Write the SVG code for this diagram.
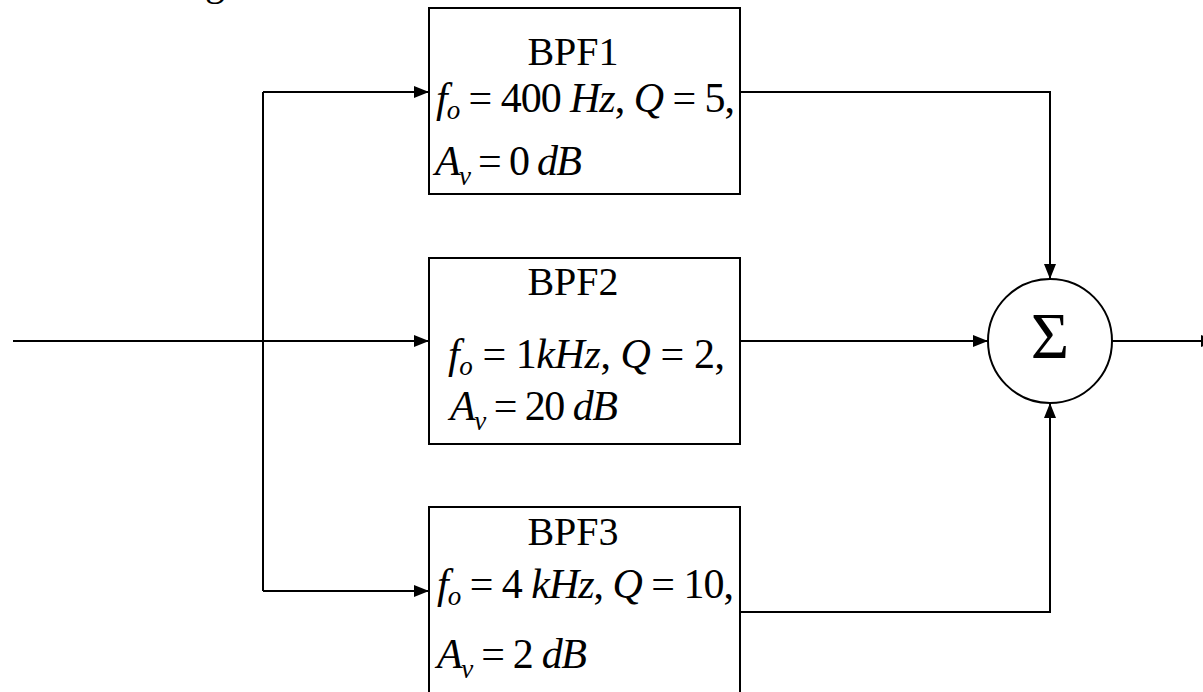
<svg xmlns="http://www.w3.org/2000/svg" width="1203" height="692" viewBox="0 0 1203 692">
<defs>
<marker id="arr" markerUnits="userSpaceOnUse" markerWidth="16" markerHeight="12" refX="15" refY="6" orient="auto">
<path d="M0,0 L15,6 L0,12 z" fill="#000"/>
</marker>
<style>
.box{fill:#fff;stroke:#000;stroke-width:2}
.ln{fill:none;stroke:#000;stroke-width:2}
.t{font-family:"Liberation Serif","Times New Roman",serif;font-size:40px;fill:#000}
.e{font-size:42px}
.i{font-style:italic}
.s{font-size:27px}
</style>
</defs>
<rect width="1203" height="692" fill="#fff"/>
<text class="t" x="205" y="-5">g</text>
<g id="connectors">
<path class="ln" d="M13,341 H429" marker-end="url(#arr)"/>
<path class="ln" d="M263,92 V591"/>
<path class="ln" d="M263,92 H429" marker-end="url(#arr)"/>
<path class="ln" d="M263,591 H429" marker-end="url(#arr)"/>
<path class="ln" d="M739,92 H1050 V279" marker-end="url(#arr)"/>
<path class="ln" d="M740,341 H988" marker-end="url(#arr)"/>
<path class="ln" d="M739,612 H1050 V403" marker-end="url(#arr)"/>
<path class="ln" d="M1112,341 H1216" marker-end="url(#arr)"/>
</g>
<g id="bpf1">
<rect class="box" x="429" y="8" width="311" height="186"/>
<text class="t" x="573" y="65" text-anchor="middle">BPF1</text>
<text class="t e" x="436" y="112" textLength="299" lengthAdjust="spacing"><tspan class="i">f</tspan><tspan class="i s" dy="7">o</tspan><tspan dy="-7"> = 400 </tspan><tspan class="i">Hz</tspan>, <tspan class="i">Q</tspan> = 5,</text>
<text class="t e" x="435" y="175" textLength="147" lengthAdjust="spacing"><tspan class="i">A</tspan><tspan class="i s" dy="10">v</tspan><tspan dy="-10"> = 0 </tspan><tspan class="i">dB</tspan></text>
</g>
<g id="bpf2">
<rect class="box" x="429" y="258" width="311" height="186"/>
<text class="t" x="573" y="295" text-anchor="middle">BPF2</text>
<text class="t e" x="448" y="368" textLength="277" lengthAdjust="spacing"><tspan class="i">f</tspan><tspan class="i s" dy="7">o</tspan><tspan dy="-7"> = 1</tspan><tspan class="i">kHz</tspan>, <tspan class="i">Q</tspan> = 2,</text>
<text class="t e" x="450" y="420" textLength="168" lengthAdjust="spacing"><tspan class="i">A</tspan><tspan class="i s" dy="10">v</tspan><tspan dy="-10"> = 20 </tspan><tspan class="i">dB</tspan></text>
</g>
<g id="bpf3">
<rect class="box" x="429" y="507" width="311" height="200"/>
<text class="t" x="573" y="545" text-anchor="middle">BPF3</text>
<text class="t e" x="437" y="598" textLength="297" lengthAdjust="spacing"><tspan class="i">f</tspan><tspan class="i s" dy="7">o</tspan><tspan dy="-7"> = 4 </tspan><tspan class="i">kHz</tspan>, <tspan class="i">Q</tspan> = 10,</text>
<text class="t e" x="437" y="668" textLength="150" lengthAdjust="spacing"><tspan class="i">A</tspan><tspan class="i s" dy="10">v</tspan><tspan dy="-10"> = 2 </tspan><tspan class="i">dB</tspan></text>
</g>
<g id="sum">
<circle class="box" cx="1050" cy="341" r="62"/>
<text class="t" x="1050" y="358" text-anchor="middle" style="font-size:66px">Σ</text>
</g>
</svg>
